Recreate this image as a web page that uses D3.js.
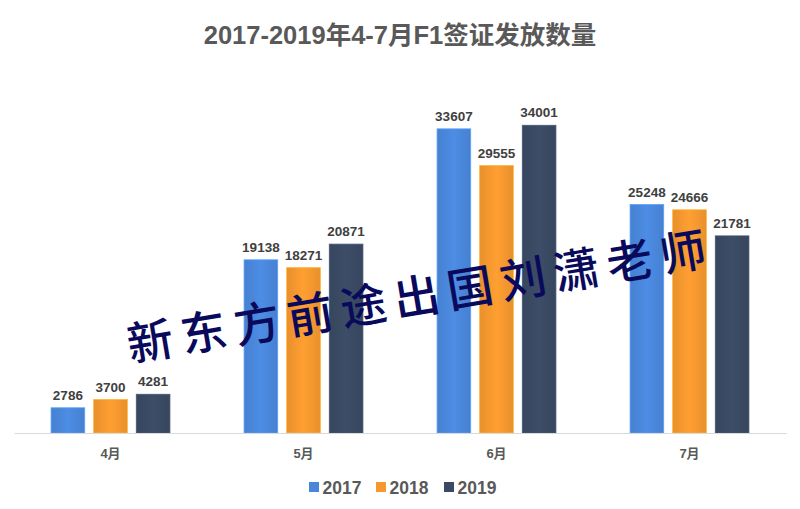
<!DOCTYPE html>
<html>
<head>
<meta charset="utf-8">
<script src="https://cdn.jsdelivr.net/npm/d3@7"></script>
<style>
  body { margin: 0; background: #fff; }
  svg { display: block; font-family: "Liberation Sans", Arial, "Noto Sans CJK SC", sans-serif; }
</style>
</head>
<body>
<svg id="chart"></svg>
<script>
// chart data
const months = ['4月', '5月', '6月', '7月'];
const years = ['2017', '2018', '2019'];
const values2017 = [2786, 19138, 33607, 25248];
const values2018 = [3700, 18271, 29555, 24666];
const values2019 = [4281, 20871, 34001, 21781];
const colors = ['#4a87db', '#f5982f', '#3a4a63'];
const title = '2017-2019年4-7月F1签证发放数量';
const watermark = '新东方前途出国刘潇老师';

const width = 800, height = 509;
const margin = {top: 71, right: 14, bottom: 76, left: 14};

const series = [values2017, values2018, values2019];
const rows = months.map((m, i) => ({month: m, vals: years.map((y, j) => ({year: y, idx: j, value: series[j][i]}))}));

const svg = d3.select('#chart')
    .attr('width', width)
    .attr('height', height);

// gradients to mimic the soft bar shading
const defs = svg.append('defs');
colors.forEach((c, i) => {
  const g = defs.append('linearGradient')
      .attr('id', 'grad' + i)
      .attr('x1', 0).attr('x2', 1).attr('y1', 0).attr('y2', 0);
  const base = d3.color(c);
  g.append('stop').attr('offset', '0%').attr('stop-color', base.darker(0.15));
  g.append('stop').attr('offset', '50%').attr('stop-color', base.brighter(0.12));
  g.append('stop').attr('offset', '100%').attr('stop-color', base.darker(0.15));
});

const x0 = d3.scaleBand()
    .domain(months)
    .range([margin.left, width - margin.right])
    .paddingInner(0)
    .paddingOuter(0);

const x1 = d3.scaleBand()
    .domain(years)
    .range([0, x0.bandwidth()])
    .paddingInner(0.21)
    .paddingOuter(0.87);

const y = d3.scaleLinear()
    .domain([0, 40000])
    .range([height - margin.bottom, margin.top]);

// title
svg.append('text')
    .attr('x', width / 2)
    .attr('y', 44)
    .attr('text-anchor', 'middle')
    .style('font-size', '25.5px')
    .style('font-weight', 'bold')
    .style('fill', '#595959')
    .text(title);

// bars
const groups = svg.selectAll('.group')
    .data(rows)
  .join('g')
    .attr('class', 'group')
    .attr('transform', d => `translate(${x0(d.month)},0)`);

groups.selectAll('rect')
    .data(d => d.vals)
  .join('rect')
    .attr('x', d => x1(d.year))
    .attr('y', d => y(d.value))
    .attr('width', x1.bandwidth())
    .attr('height', d => y(0) - y(d.value))
    .attr('fill', d => `url(#grad${d.idx})`)
    .attr('stroke', d => d3.color(colors[d.idx]).brighter(0.5))
    .attr('stroke-width', 0.8);

// value labels
groups.selectAll('.val')
    .data(d => d.vals)
  .join('text')
    .attr('class', 'val')
    .attr('x', d => x1(d.year) + x1.bandwidth() / 2)
    .attr('y', d => y(d.value) - 8)
    .attr('text-anchor', 'middle')
    .style('font-size', '13.5px')
    .style('font-weight', 'bold')
    .style('fill', '#404040')
    .text(d => d.value);

// x axis
const xAxis = d3.axisBottom(x0).tickSize(0).tickPadding(16);
const xAxisG = svg.append('g')
    .attr('transform', `translate(0,${y(0)})`)
    .call(xAxis);
xAxisG.select('.domain').attr('stroke', '#d9d9d9').attr('stroke-width', 1.2);
xAxisG.selectAll('text')
    .style('font-family', '"Liberation Sans", Arial, "Noto Sans CJK SC", sans-serif')
    .style('font-size', '13px')
    .style('font-weight', 'bold')
    .style('fill', '#595959');

// legend
const legendX = [309, 376, 444];
const legend = svg.selectAll('.legend')
    .data(years)
  .join('g')
    .attr('class', 'legend')
    .attr('transform', (d, i) => `translate(${legendX[i]},487)`);
legend.append('rect')
    .attr('x', 0).attr('y', -5)
    .attr('width', 10).attr('height', 10)
    .attr('fill', (d, i) => colors[i]);
legend.append('text')
    .attr('x', 13.5)
    .attr('y', 6.5)
    .style('font-size', '17.5px')
    .style('font-weight', 'bold')
    .style('fill', '#595959')
    .text(d => d);

// watermark
svg.append('text')
    .attr('x', 420)
    .attr('y', 293)
    .attr('text-anchor', 'middle')
    .attr('dominant-baseline', 'central')
    .attr('transform', 'rotate(-9.5,420,293)')
    .style('font-family', '"Noto Sans CJK SC", sans-serif')
    .style('font-size', '46px')
    .style('font-weight', '500')
    .style('letter-spacing', '8px')
    .style('fill', '#0a0a5c')
    .text(watermark);
</script>
</body>
</html>
